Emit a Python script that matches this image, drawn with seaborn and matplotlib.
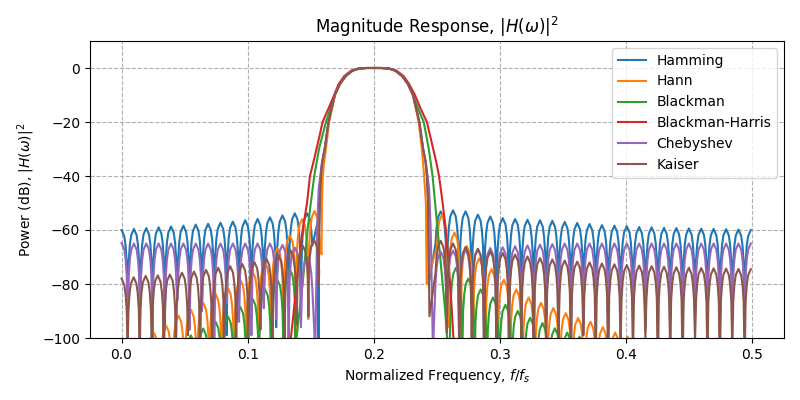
import numpy as np
import pandas as pd
import matplotlib
matplotlib.use("Agg")
import matplotlib.pyplot as plt
import seaborn as sns

windows = ["Hamming", "Hann", "Blackman", "Blackman-Harris", "Chebyshev", "Kaiser"]

# sidelobe peak frequencies
left_f = [0.0000, 0.0098, 0.0196, 0.0294, 0.0392, 0.0490, 0.0588, 0.0686,
          0.0784, 0.0882, 0.0980, 0.1078, 0.1176, 0.1275, 0.1373, 0.1471]
right_f = [0.2529, 0.2627, 0.2726, 0.2824, 0.2922, 0.3021, 0.3119, 0.3217,
           0.3316, 0.3414, 0.3512, 0.3611, 0.3709, 0.3807, 0.3906, 0.4004,
           0.4102, 0.4201, 0.4299, 0.4397, 0.4496, 0.4594, 0.4692, 0.4791,
           0.4889, 0.4987]
left_f_shift = [0.0059, 0.0157, 0.0255, 0.0353, 0.0451, 0.0549, 0.0647, 0.0745,
                0.0843, 0.0941, 0.1039, 0.1137, 0.1235, 0.1333, 0.1431, 0.1529]
hann_right_f = [0.2540, 0.2638, 0.2736, 0.2834, 0.2932, 0.3030, 0.3128, 0.3226,
                0.3324, 0.3422, 0.3520, 0.3618, 0.3716, 0.3814, 0.3912, 0.4010,
                0.4108, 0.4206, 0.4304, 0.4402, 0.4500, 0.4598, 0.4696, 0.4794,
                0.4892, 0.4990]
green_left_f = [0.0059, 0.0157, 0.0255, 0.0353, 0.0451, 0.0549, 0.0647, 0.0745,
                0.0843, 0.0941, 0.1039, 0.1137, 0.1235, 0.1333]
green_right_f = [0.2650, 0.2748, 0.2846, 0.2944, 0.3042, 0.3140, 0.3238, 0.3336,
                 0.3434, 0.3532, 0.3630, 0.3728, 0.3826, 0.3924, 0.4022, 0.4120,
                 0.4218, 0.4316, 0.4414, 0.4512, 0.4610, 0.4708, 0.4806, 0.4904]
kaiser_left_f = [0.0000, 0.0096, 0.0191, 0.0287, 0.0383, 0.0479, 0.0574, 0.0670,
                 0.0766, 0.0861, 0.0957, 0.1053, 0.1148, 0.1244, 0.1340, 0.1436,
                 0.1525]

# Hamming
hamming_left = [-60.0, -59.6, -59.3, -59.0, -58.7, -58.4, -58.0, -57.7,
                -57.3, -56.9, -56.4, -55.9, -55.3, -54.6, -53.8, -53.8]
hamming_left_nulls = [-84, -92, -88, -97, -86, -95, -90, -84, -99, -88, -93, -86, -96, -89, -83]
hamming_main_f = [0.1555, 0.1561, 0.1566, 0.1572, 0.1580, 0.1590, 0.1610, 0.1640, 0.1665,
                  0.1690, 0.1730, 0.1776, 0.1830, 0.1880, 0.1940, 0.2000, 0.2060, 0.2120,
                  0.2170, 0.2224, 0.2270, 0.2310, 0.2335, 0.2360, 0.2390, 0.2410, 0.2420,
                  0.2430, 0.2434]
hamming_main = [-56.8, -130, -60, -50, -40, -35, -30, -20, -15, -10, -6, -3, -1, -0.2, 0,
                0, 0, -0.2, -1, -3, -6, -10, -15, -20, -30, -35, -40, -50, -80]
hamming_right = [-53.1, -52.7, -53.1, -54.3, -55.0, -55.6, -55.9, -56.2, -56.4, -56.6,
                 -57.0, -57.4, -57.8, -58.2, -58.4, -58.6, -58.9, -59.0, -59.2, -59.3,
                 -59.4, -59.5, -59.6, -59.7, -59.8, -60.0]
hamming_right_nulls = [-88, -95, -84, -99, -90, -86, -97, -83, -92, -100, -87, -94, -85,
                       -98, -91, -86, -96, -84, -93, -99, -88, -85, -95, -90, -97]

# Hann
hann_left = [-110, -104, -98, -95.4, -91.7, -89.5, -87, -83.7,
             -81.5, -78.4, -75.5, -72, -66.7, -62, -56, -53]
hann_left_nulls = [-125, -120, -118, -122, -115, -119, -112, -117, -110, -114, -108, -111,
                   -105, -98, -93]
hann_main_f = [0.1585, 0.1588, 0.1595, 0.1605, 0.1620, 0.1645, 0.1668, 0.1692, 0.1730,
               0.1776, 0.1830, 0.1880, 0.1940, 0.2000, 0.2060, 0.2120, 0.2170, 0.2224,
               0.2270, 0.2308, 0.2332, 0.2355, 0.2380, 0.2398, 0.2412, 0.2418]
hann_main = [-69, -50, -40, -35, -30, -20, -15, -10, -6, -3, -1, -0.2, 0, 0, 0, -0.2,
             -1, -3, -6, -10, -15, -20, -30, -40, -50, -80]
hann_right = [-54.3, -61.0, -66.0, -70.5, -74.5, -78.4, -82.0, -85.0, -87.0, -88.9,
              -90.8, -92.6, -94.0, -96.0, -98.0, -99.5, -102, -104, -106, -107,
              -108, -109, -110, -110.5, -111, -111.5]
hann_right_nulls = [-96, -110, -115, -118, -120, -117, -122, -119, -121, -116, -123, -120,
                    -118, -122, -125, -121, -124, -120, -126, -123, -125, -122, -127, -124, -126]

# Blackman
blackman_left = [-125, -120, -115, -111, -106, -99, -96.5, -94, -92, -88.5, -85.5, -82,
                 -78.5, -74.5]
blackman_left_nulls = [-130, -128, -126, -124, -122, -120, -118, -116, -115, -112, -110,
                       -108, -105]
blackman_main_f = [0.1375, 0.1387, 0.1410, 0.1435, 0.1455, 0.1474, 0.1500, 0.1527, 0.1565,
                   0.1592, 0.1620, 0.1655, 0.1690, 0.1725, 0.1770, 0.1825, 0.1880, 0.1940,
                   0.2000, 0.2060, 0.2120, 0.2175, 0.2230, 0.2275, 0.2310, 0.2350, 0.2395,
                   0.2435, 0.2465, 0.2485, 0.2505, 0.2525, 0.2545, 0.2565, 0.2580, 0.2595]
blackman_main = [-115, -100, -90, -80, -70, -60, -50, -40, -30, -25, -20, -15, -10, -6, -3,
                 -1, -0.2, 0, 0, 0, -0.2, -1, -3, -6, -10, -15, -20, -30, -40, -50, -60,
                 -70, -80, -90, -100, -115]
blackman_right = [-74, -78, -82, -85, -87.7, -90, -92.5, -94.5, -96.4, -98, -99.5, -101,
                  -103, -105, -107, -109, -111, -113, -115, -117, -119, -121, -123, -125]
blackman_right_nulls = [-112, -118, -115, -121, -117, -124, -119, -122, -126, -120, -125,
                        -123, -128, -124, -127, -130, -126, -129, -131, -128, -132, -130, -133]

# Blackman-Harris (sidelobes sit below the plotted range)
bh_main_f = [0.1320, 0.1342, 0.1365, 0.1387, 0.1410, 0.1435, 0.1470, 0.1493, 0.1520,
             0.1545, 0.1570, 0.1593, 0.1640, 0.1685, 0.1720, 0.1765, 0.1820, 0.1880,
             0.1940, 0.2000, 0.2060, 0.2120, 0.2180, 0.2235, 0.2280, 0.2325, 0.2370,
             0.2420, 0.2445, 0.2470, 0.2495, 0.2516, 0.2545, 0.2569, 0.2588, 0.2604,
             0.2618, 0.2630, 0.2650]
bh_main = [-120, -100, -90, -80, -70, -60, -50, -40, -35, -30, -25, -20, -15, -10, -6, -3,
           -1, -0.2, 0, 0, 0, -0.2, -1, -3, -6, -10, -15, -20, -25, -30, -35, -40, -50,
           -60, -70, -80, -90, -100, -120]

# Chebyshev
cheb_left = [-64.8, -65.0, -65.0, -65.0, -65.0, -65.0, -65.0, -65.0,
             -65.0, -65.0, -65.0, -65.0, -65.0, -65.5, -66.5, -70.0]
cheb_left_nulls = [-95, -88, -100, -92, -86, -97, -90, -104, -87, -94, -99, -89, -93, -101, -96]
cheb_main_f = [0.1535, 0.1550, 0.1562, 0.1575, 0.1588, 0.1610, 0.1640, 0.1665, 0.1690,
               0.1730, 0.1776, 0.1830, 0.1880, 0.1940, 0.2000, 0.2060, 0.2120, 0.2170,
               0.2224, 0.2270, 0.2310, 0.2335, 0.2360, 0.2390, 0.2412, 0.2425, 0.2438,
               0.2450, 0.2468]
cheb_main = [-105, -60, -45, -40, -35, -30, -20, -15, -10, -6, -3, -1, -0.2, 0, 0, 0,
             -0.2, -1, -3, -6, -10, -15, -20, -30, -35, -40, -45, -60, -105]
cheb_right = [-68.0, -67.6, -67.3, -67.0, -66.7, -66.4, -66.0, -65.7, -65.4, -65.2,
              -65.0, -65.0, -65.0, -65.0, -65.0, -65.0, -65.0, -65.0, -65.0, -65.0,
              -65.0, -65.0, -65.0, -65.0, -65.0, -65.0]
cheb_right_nulls = [-92, -100, -88, -96, -103, -90, -86, -98, -93, -101, -87, -95, -89,
                    -99, -92, -86, -97, -90, -100, -88, -94, -91, -99, -87, -96]

# Kaiser
kaiser_left = [-78.0, -77.5, -77.0, -76.8, -76.5, -75.8, -75.4, -74.8, -74.0,
               -73.4, -72.6, -71.9, -70.6, -69.4, -67.6, -65.8, -63.6]
kaiser_left_nulls = [-104, -112, -101, -118, -106, -99, -115, -103, -110, -100, -108, -97,
                     -113, -102, -95, -92]
kaiser_main_f = [0.1562, 0.1567, 0.1572, 0.1580, 0.1590, 0.1610, 0.1640, 0.1665, 0.1690,
                 0.1730, 0.1776, 0.1830, 0.1880, 0.1940, 0.2000, 0.2060, 0.2120, 0.2170,
                 0.2224, 0.2270, 0.2310, 0.2335, 0.2360, 0.2390, 0.2410, 0.2420, 0.2430,
                 0.2440]
kaiser_main = [-80, -58, -50, -40, -35, -30, -20, -15, -10, -6, -3, -1, -0.2, 0, 0, 0,
               -0.2, -1, -3, -6, -10, -15, -20, -30, -35, -40, -50, -92]
kaiser_right = [-64.0, -65.0, -66.3, -67.0, -67.9, -68.5, -69.1, -69.8, -70.4, -70.9,
                -71.3, -71.7, -72.0, -72.4, -72.7, -73.0, -73.2, -73.4, -73.6, -73.8,
                -74.0, -74.1, -74.2, -74.3, -74.4, -74.5]
kaiser_right_nulls = [-98, -108, -101, -115, -104, -110, -100, -117, -106, -102, -112, -99,
                      -109, -114, -103, -107, -100, -116, -105, -111, -101, -108, -113, -104, -110]

# drawing glyph for one sidelobe: offsets (in lobe widths) and dB below its peak
ARCH_DU = [-0.42, -0.33, -0.22, 0.0, 0.22, 0.33, 0.42]
ARCH_DROP = [12, 6, 2.3, 0, 2.3, 6, 12]
LOBE_W = 0.0098


def lobes(peak_f, peak_db, null_db):
    assert len(peak_f) == len(peak_db) and len(null_db) == len(peak_f) - 1
    xs, ys = [], []
    for i, (f, p) in enumerate(zip(peak_f, peak_db)):
        for du, drop in zip(ARCH_DU, ARCH_DROP):
            xs.append(f + du * LOBE_W)
            ys.append(p - drop)
        if i < len(null_db):
            xs.append((f + peak_f[i + 1]) / 2)
            ys.append(null_db[i])
    return xs, ys


def build(name, parts):
    xs, ys = [], []
    for px, py in parts:
        assert len(px) == len(py), name
        xs += list(px)
        ys += list(py)
    df = pd.DataFrame({"f": xs, "db": ys, "window": name})
    return df[(df["f"] >= 0.0) & (df["f"] <= 0.5)]


frames = [
    build("Hamming", [lobes(left_f, hamming_left, hamming_left_nulls),
                      (hamming_main_f, hamming_main),
                      lobes(right_f, hamming_right, hamming_right_nulls)]),
    build("Hann", [lobes(left_f_shift, hann_left, hann_left_nulls),
                   (hann_main_f, hann_main),
                   lobes(hann_right_f, hann_right, hann_right_nulls)]),
    build("Blackman", [lobes(green_left_f, blackman_left, blackman_left_nulls),
                       (blackman_main_f, blackman_main),
                       lobes(green_right_f, blackman_right, blackman_right_nulls)]),
    build("Blackman-Harris", [(bh_main_f, bh_main)]),
    build("Chebyshev", [lobes(left_f, cheb_left, cheb_left_nulls),
                        (cheb_main_f, cheb_main),
                        lobes(right_f, cheb_right, cheb_right_nulls)]),
    build("Kaiser", [lobes(kaiser_left_f, kaiser_left, kaiser_left_nulls),
                     (kaiser_main_f, kaiser_main),
                     lobes(right_f, kaiser_right, kaiser_right_nulls)]),
]
data = pd.concat(frames, ignore_index=True)

fig, ax = plt.subplots(figsize=(8, 4), dpi=100)
sns.lineplot(data=data, x="f", y="db", hue="window", hue_order=windows,
             palette=sns.color_palette("tab10", 6), sort=False, estimator=None,
             linewidth=1.5, ax=ax)

ax.set_xlim(-0.025, 0.525)
ax.set_ylim(-100, 10)
ax.set_xticks([0.0, 0.1, 0.2, 0.3, 0.4, 0.5])
ax.set_yticks([-100, -80, -60, -40, -20, 0])
ax.grid(True, linestyle="--", color="#b0b0b0", linewidth=0.8)
ax.set_title(r"Magnitude Response, $|H(\omega)|^2$")
ax.set_xlabel(r"Normalized Frequency, $f/f_s$")
ax.set_ylabel(r"Power (dB), $|H(\omega)|^2$")
handles, labels = ax.get_legend_handles_labels()
ax.legend(handles, labels, loc="upper right")

fig.subplots_adjust(left=0.1125, right=0.98, top=0.8975, bottom=0.155)
fig.savefig("out.png", dpi=100)
